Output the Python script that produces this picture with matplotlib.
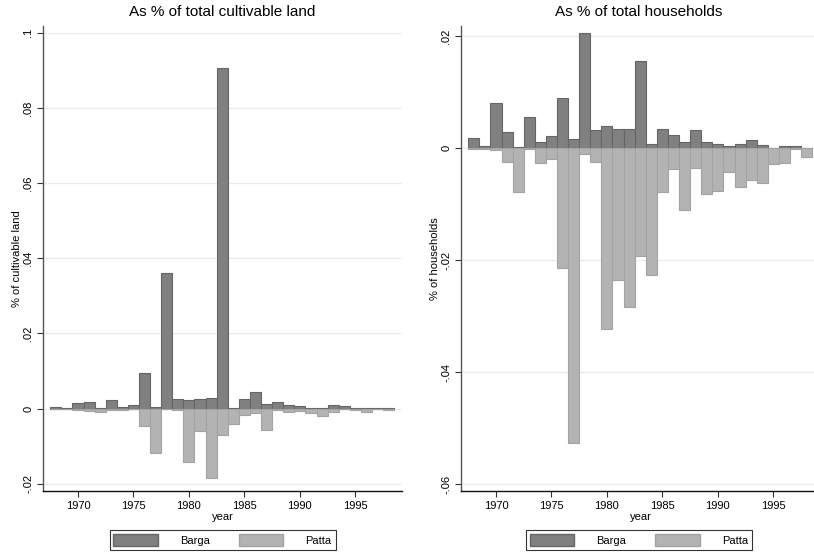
import numpy as np
import matplotlib
matplotlib.use('Agg')
import matplotlib.pyplot as plt
from matplotlib.patches import Patch

plt.rcParams['font.family'] = ['Liberation Sans', 'DejaVu Sans']

years = list(range(1968, 1999))

# share of cultivable land
land_barga = [0.0004, 0.0002, 0.0016, 0.0018, 0.0001, 0.0022, 0.0004, 0.0009,
              0.0094, 0.0005, 0.0362, 0.0027, 0.0022, 0.0027, 0.0028, 0.0906,
              0.0001, 0.0026, 0.0044, 0.0012, 0.0018, 0.0010, 0.0006, 0.0002,
              0.0003, 0.0011, 0.0006, 0.0002, 0.0001, 0.0003, 0.0002]
land_patta = [-0.0002, -0.0002, -0.0003, -0.0006, -0.0010, -0.0003, -0.0004, -0.0001,
              -0.0047, -0.0118, -0.0002, -0.0004, -0.0142, -0.0060, -0.0185, -0.0071,
              -0.0041, -0.0016, -0.0012, -0.0057, -0.0003, -0.0009, -0.0006, -0.0012,
              -0.0019, -0.0010, -0.0002, -0.0003, -0.0010, -0.0002, -0.0004]

# share of households
hh_barga = [0.0018, 0.0003, 0.0081, 0.0029, 0.0002, 0.0056, 0.0011, 0.0021,
            0.0090, 0.0016, 0.0205, 0.0032, 0.0040, 0.0034, 0.0034, 0.0155,
            0.0007, 0.0035, 0.0023, 0.0011, 0.0032, 0.0011, 0.0008, 0.0004,
            0.0008, 0.0014, 0.0005, 0.0000, 0.0003, 0.0004, 0.0000]
hh_patta = [-0.0001, -0.0001, -0.0003, -0.0024, -0.0079, -0.0001, -0.0027, -0.0019,
            -0.0214, -0.0526, -0.0011, -0.0024, -0.0323, -0.0235, -0.0283, -0.0192,
            -0.0227, -0.0078, -0.0037, -0.0111, -0.0035, -0.0082, -0.0076, -0.0043,
            -0.0069, -0.0056, -0.0062, -0.0028, -0.0026, -0.0002, -0.0016]

land_ticks = [-0.02, 0, 0.02, 0.04, 0.06, 0.08, 0.1]
hh_ticks = [-0.06, -0.04, -0.02, 0, 0.02]
year_ticks = [1970, 1975, 1980, 1985, 1990, 1995]

dark = '#808080'
light = '#b3b3b3'


def stata_fmt(v):
    if abs(v) < 1e-12:
        return '0'
    s = ('%g' % v)
    return s.replace('0.', '.')


W, H = 814, 554
fig = plt.figure(figsize=(W / 100, H / 100), dpi=100)
fig.patch.set_facecolor('white')


def panel(x0, title, ylabel, barga, patta, yticks, ylim, legx):
    ax = fig.add_axes([x0 / W, (H - 491) / H, 359 / W, 465 / H])
    for t in yticks:
        ax.axhline(t, color='#ececec', lw=1.0, zorder=0)
    ax.bar(years, barga, width=1.0, color=dark, edgecolor='#666666', lw=0.8, zorder=2)
    ax.bar(years, patta, width=1.0, color=light, edgecolor='#a3a3a3', lw=0.8, zorder=3)
    ax.set_xlim(1966.85, 1999.2)
    ax.set_ylim(*ylim)
    ax.set_xticks(year_ticks)
    ax.set_yticks(yticks)
    ax.set_yticklabels([stata_fmt(t) for t in yticks], rotation=90, va='center')
    ax.tick_params(axis='both', labelsize=8, length=4, width=0.8, color='#333333', pad=3)
    for s in ['top', 'right']:
        ax.spines[s].set_visible(False)
    ax.spines['left'].set_color('#555555')
    ax.spines['bottom'].set_color('#111111')
    ax.spines['left'].set_linewidth(1.0)
    ax.spines['bottom'].set_linewidth(1.0)
    ax.set_xlabel('year', fontsize=8, labelpad=1)
    ax.set_ylabel(ylabel, fontsize=8, labelpad=1)
    fig.text(legx / W, 1 - 12 / H, title, ha='center', va='center', fontsize=11)
    handles = [Patch(facecolor=dark, edgecolor='#666666', label='Barga'),
               Patch(facecolor=light, edgecolor='#a3a3a3', label='Patta')]
    leg = ax.legend(handles=handles, loc='center', ncol=2,
                    bbox_to_anchor=(legx / W, (H - 540) / H),
                    bbox_transform=fig.transFigure, fontsize=8,
                    handlelength=4.0, handleheight=1.3, handletextpad=2.0,
                    columnspacing=2.6, borderpad=0.35, borderaxespad=0,
                    fancybox=False, frameon=True, edgecolor='black')
    leg.get_frame().set_linewidth(0.8)
    return ax


panel(43, 'As % of total cultivable land', '% of cultivable land',
      land_barga, land_patta, land_ticks, (-0.0219, 0.1018), 222.5)
panel(461, 'As % of total households', '% of households',
      hh_barga, hh_patta, hh_ticks, (-0.0612, 0.0218), 639)

fig.savefig('out.png', dpi=100, facecolor='white')
